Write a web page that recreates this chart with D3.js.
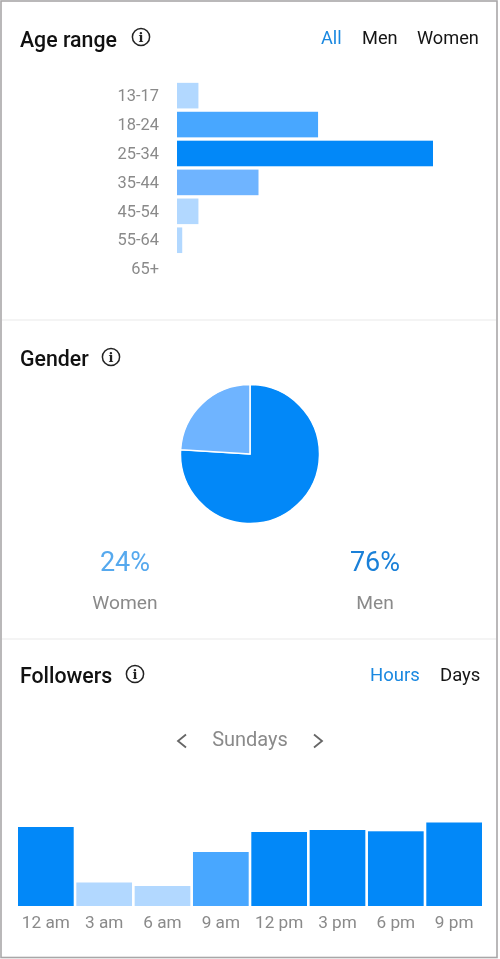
<!DOCTYPE html>
<html>
<head>
<meta charset="utf-8">
<script src="https://cdn.jsdelivr.net/npm/d3@7/dist/d3.min.js"></script>
<style>
html,body{margin:0;padding:0;background:#fff;}
svg{display:block;filter:blur(0.35px);}
text{font-family:Roboto,sans-serif;}
</style>
</head>
<body>
<svg id="c" width="500" height="959"></svg>
<script>
const ageLabels = ["13-17","18-24","25-34","35-44","45-54","55-64","65+"];
const ageValues = [4.1,27,49,15.6,4.1,1,0];
const genderLabels = ["Men","Women"];
const genderValues = [76,24];
const hourLabels = ["12 am","3 am","6 am","9 am","12 pm","3 pm","6 pm","9 pm"];
const hourValues = [79,23.5,20,54,74,76,74.7,83.5];
const ageTabs = [["All",321,"#1a88e0"],["Men",362,"#151515"],["Women",417,"#151515"]];
const followerTabs = [["Hours",370,"#1a88e0"],["Days",440,"#151515"]];

const DARK="#0288f8", MID="#48a7ff", SOFT="#6fb4ff", LIGHT="#b2d8ff";
const GREY="#8a8a8a";
const svg=d3.select("#c");

// frame and dividers
svg.append("rect").attr("x",1).attr("y",1).attr("width",496).attr("height",956.5)
  .attr("fill","none").attr("stroke","#a9a7a8").attr("stroke-width",1.6);
[320,639].forEach(y=>svg.append("line").attr("x1",2).attr("x2",496).attr("y1",y).attr("y2",y)
  .attr("stroke","#e9e9e9").attr("stroke-width",1));

function text(x,y,s,size,fill,anchor,weight){
  return svg.append("text").attr("x",x).attr("y",y).text(s).attr("font-size",size)
    .attr("fill",fill).attr("text-anchor",anchor||"start").attr("font-weight",weight||400);
}
function info(cx,cy){
  svg.append("circle").attr("cx",cx).attr("cy",cy).attr("r",8.6).attr("fill","none")
    .attr("stroke","#222").attr("stroke-width",1.5);
  svg.append("text").attr("x",cx).attr("y",cy+4.5).attr("text-anchor","middle")
    .attr("font-size",13).attr("font-weight",700).attr("fill","#222")
    .style("font-family","'DejaVu Serif',serif").text("i");
}

// Age range
text(20,47,"Age range",21.3,"#111","start",500);
info(141,37);
ageTabs.forEach(t=>text(t[1],44,t[0],18.2,t[2]));
const ageX=d3.scaleLinear().domain([0,49]).range([177,433]);
const ageY=d3.scaleBand().domain(ageLabels).range([81.4,283.4]).paddingInner(0.115).paddingOuter(0.05);
const ageColor=d3.scaleThreshold().domain([10,20,40]).range([LIGHT,SOFT,MID,DARK]);
svg.append("g").selectAll("rect").data(ageValues).join("rect")
  .attr("x",ageX(0)).attr("y",(d,i)=>ageY(ageLabels[i]))
  .attr("width",d=>ageX(d)-ageX(0)).attr("height",ageY.bandwidth())
  .attr("fill",d=>ageColor(d));
const ageAxis=svg.append("g").attr("transform","translate(177,0)")
  .call(d3.axisLeft(ageY).tickSize(0).tickPadding(18));
ageAxis.select(".domain").remove();
ageAxis.selectAll("text").attr("font-size",16.4).attr("fill",GREY).style("font-family","Roboto,sans-serif");

// Gender
text(20,366,"Gender",21.3,"#111","start",500);
info(111,357);
const pie=d3.pie().sort(null).value(d=>d)(genderValues);
const arc=d3.arc().innerRadius(0).outerRadius(69.5);
svg.append("g").attr("transform","translate(250,454)").selectAll("path").data(pie).join("path")
  .attr("d",arc).attr("fill",(d,i)=>i===0?DARK:SOFT)
  .attr("stroke","#fff").attr("stroke-width",1.5);
text(125,571,genderValues[1]+"%",27,"#56a9ee","middle");
text(375,571,genderValues[0]+"%",27,"#1a80d8","middle");
text(125,609,genderLabels[1],19.2,GREY,"middle");
text(375,609,genderLabels[0],19.2,GREY,"middle");

// Followers
text(20,683,"Followers",21.3,"#111","start",500);
info(135,674);
followerTabs.forEach(t=>text(t[1],681,t[0],18.5,t[2]));
text(250,746,"Sundays",20,GREY,"middle");
[[186,734.5,178,741,186,747.5],[314,734.5,322,741,314,747.5]].forEach(p=>{
  svg.append("path").attr("d",d3.line()([[p[0],p[1]],[p[2],p[3]],[p[4],p[5]]]))
    .attr("fill","none").attr("stroke","#666").attr("stroke-width",1.8);
});
const hx=d3.scaleBand().domain(hourLabels).range([18,482]).paddingInner(0.045).paddingOuter(0);
const hy=d3.scaleLinear().domain([0,100]).range([906,806]);
const hColor=d3.scaleThreshold().domain([30,65]).range([LIGHT,MID,DARK]);
svg.append("g").selectAll("rect").data(hourValues).join("rect")
  .attr("x",(d,i)=>hx(hourLabels[i])).attr("y",d=>hy(d))
  .attr("width",hx.bandwidth()).attr("height",d=>hy(0)-hy(d))
  .attr("fill",d=>hColor(d));
const hAxis=svg.append("g").attr("transform","translate(0,906)")
  .call(d3.axisBottom(hx).tickSize(0).tickPadding(10));
hAxis.select(".domain").remove();
hAxis.selectAll("text").attr("font-size",17.2).attr("fill",GREY).style("font-family","Roboto,sans-serif");
</script>
</body>
</html>
